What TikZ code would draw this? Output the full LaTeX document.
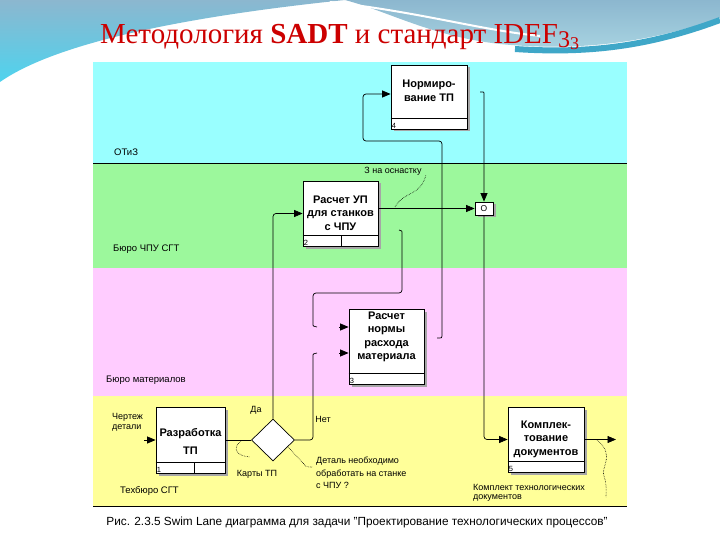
\documentclass[tikz,border=0pt]{standalone}
\usepackage{fontspec}
\setmainfont{Liberation Sans}
\newfontfamily\titlefont{Liberation Serif}
\usetikzlibrary{arrows.meta,shapes.geometric,shadows,calc}
\definecolor{lanecyan}{HTML}{99FFFF}
\definecolor{lanegreen}{HTML}{9CF89C}
\definecolor{lanepink}{HTML}{FFCCFF}
\definecolor{laneyellow}{HTML}{FFFF99}
\definecolor{titlered}{HTML}{CC0000}
\definecolor{decotop}{HTML}{8CB7CF}
\definecolor{decocyan}{HTML}{4ED3EE}
\definecolor{decoright}{HTML}{A9D5E2}
\definecolor{decoteal}{HTML}{3FA7C8}
\tikzset{
  box/.style={draw, fill=white, line width=0.8pt, inner sep=0pt,
    drop shadow={shadow xshift=2.5pt, shadow yshift=-2.5pt, fill=black!35, opacity=1}},
  boxtxt/.style={font=\fontsize{11}{13.5}\selectfont\bfseries, align=center, inner sep=0pt},
  idl/.style={font=\fontsize{7.5}{7.5}\selectfont, inner sep=1pt},
  lbl/.style={font=\fontsize{9}{10}\selectfont, align=left, inner sep=0pt},
  lane/.style={font=\fontsize{9.5}{10}\selectfont, inner sep=0pt, anchor=west},
  link/.style={line width=0.7pt, rounded corners=3pt},
  arr/.style={link, -{Triangle[length=8.5pt,width=7pt]}},
  sq/.style={densely dotted, line width=0.6pt},
}
\begin{document}
\begin{tikzpicture}[x=1pt,y=-1pt]
\useasboundingbox (0,0) rectangle (720,540);
\fill[white] (0,0) rectangle (720,540);
% decoration
\shade[top color=decotop, bottom color=decocyan] (0,0) -- (345,0) .. controls (200,15) and (60,40) .. (0,82) -- cycle;
\shade[top color=decotop, bottom color=decoright] (345,0) -- (720,0) -- (720,18) .. controls (650,42) and (580,52) .. (500,44) .. controls (430,36) and (390,12) .. (345,0) -- cycle;
\draw[decoteal, line width=6pt] (720,20) .. controls (650,46) and (590,54) .. (515,49);
\draw[white, line width=2pt] (330,2) .. controls (420,12) and (480,30) .. (540,36);
% title
\node[anchor=base west, text=titlered, inner sep=0pt, font=\titlefont\fontsize{29}{30}\selectfont] (title) at (100,44)
  {Методология \textbf{SADT} и стандарт IDEF\raisebox{-0.12em}{\fontsize{24}{24}\selectfont 3}\raisebox{-0.2em}{\fontsize{18}{18}\selectfont 3}};
% lanes
\fill[lanecyan] (93,62) rectangle (627,163);
\fill[lanegreen] (93,163) rectangle (627,268);
\fill[lanepink] (93,268) rectangle (627,396);
\fill[laneyellow] (93,396) rectangle (627,506);
\draw[line width=0.8pt] (93,163) -- (627,163);
\draw[line width=0.8pt] (93,506) -- (627,506);
% lane labels
\node[lane] (l1) at (114,152) {ОТиЗ};
\node[lane] (l2) at (113,249) {Бюро ЧПУ СГТ};
\node[lane] (l3) at (106,380) {Бюро материалов};
\node[lane] (l4) at (120,491) {Техбюро СГТ};
% boxes
\node[box, minimum width=76pt, minimum height=64pt] (b4) at (429,97) {};
\node[box, minimum width=75pt, minimum height=65pt] (b2) at (340.5,213.5) {};
\node[box, minimum width=75pt, minimum height=75pt] (b3) at (386.5,346.5) {};
\node[box, minimum width=69pt, minimum height=66pt] (b1) at (190.5,440) {};
\node[box, minimum width=76pt, minimum height=65pt] (b5) at (546,439.5) {};
\node[box, minimum width=18pt, minimum height=13pt, font=\fontsize{8.5}{8.5}\selectfont] (J) at (484,208.5) {O};
\node[draw, diamond, fill=white, line width=0.7pt, minimum width=43pt, minimum height=42pt, inner sep=0pt] (D) at (273,440) {};
% strips
\foreach \b/\n in {b4/4, b2/2, b3/3, b1/1, b5/5} {
  \draw[line width=0.6pt] ($(\b.south west)+(0,-11)$) -- ($(\b.south east)+(0,-11)$);
  \node[idl, anchor=south west] at (\b.south west) {\n};
}
\draw[line width=0.6pt] ($(b2.south west)+(39,0)$) -- ++(0,-11);
\draw[line width=0.6pt] ($(b1.south west)+(39,0)$) -- ++(0,-11);
% box texts
\node[boxtxt] (t4) at (429,91) {Нормиро-\\вание ТП};
\node[boxtxt] (t2) at (340.5,213) {Расчет УП\\для станков\\с ЧПУ};
\node[boxtxt] (t3) at (386.5,337) {Расчет\\нормы\\расхода\\материала};
\node[boxtxt, font=\fontsize{11}{18}\selectfont\bfseries] (t1) at (190.5,441) {Разработка\\ТП};
\node[boxtxt] (t5) at (546,439) {Комплек-\\тование\\документов};
% coordinates
\coordinate (in1) at (144,440);
\coordinate (out5) at (616,439.5);
\coordinate (tA) at (317,353);
\coordinate (tB) at (339,353);
\coordinate (tC) at (399,230);
\coordinate (tD) at (317,327);
\coordinate (tE) at (339,327);
\coordinate (tF) at (437,338);
\coordinate (tG) at (480,92);
% connectors
\draw[arr] (in1) -- (b1.west);
\draw[link] (b1.east) -- (D.west);
\draw[arr] (D.north) |- (b2.west);
\draw[link] (D.east) -- (313,440) -- (313,358) .. controls (313,354) .. (tA);
\draw[arr] (tB) -- (tB -| b3.west);
\draw[link] (tC) .. controls (402,231) .. (402,235) -- (402,293) -- (313,293) -- (313,322) .. controls (313,326) .. (tD);
\draw[arr] (tE) -- (tE -| b3.west);
\draw[arr] (tF) .. controls (442,338) .. (442,333) -- (442,141) -- (363,141) -- (363,94) -- ($(b4.west)+(0,-3)$);
\draw[arr] (tG) .. controls (484,92) .. (484,96) -- (J.north);
\draw[arr] (b2.east |- J.west) -- (J.west);
\draw[arr] (J.south) |- (b5.west);
\draw[arr] (b5.east) -- (out5);
% squiggles
\draw[sq] (241,441) .. controls (232,448) and (236,456) .. (250,457);
\draw[sq] (395,207) .. controls (405,190) and (420,197) .. (426,175);
\draw[sq] (597,440) .. controls (616,455) and (600,468) .. (604,476) .. controls (607,485) and (606,490) .. (606,497);
\draw[sq] (288,447) -- (303,463) .. controls (306,467) .. (312,467);
% labels
\node[lbl, anchor=west] (lin) at (112,422) {Чертеж\\детали};
\node[lbl] (lkarty) at (257,474) {Карты ТП};
\node[lbl] (lda) at (256,410) {Да};
\node[lbl] (lnet) at (323,419) {Нет};
\node[lbl] (lz) at (393,171) {З на оснастку};
\node[lbl, anchor=north west, font=\fontsize{9}{12.5}\selectfont] (ldet) at (316,457) {Деталь необходимо\\обработать на станке\\с ЧПУ ?};
\node[lbl, anchor=north west, font=\fontsize{9}{9.5}\selectfont] (lkompl) at (473,484) {Комплект технологических\\документов};
% caption
\node[font=\fontsize{11.8}{13}\selectfont, inner sep=0pt] (cap) at (357,522) {Рис. 2.3.5 Swim Lane диаграмма для задачи "Проектирование технологических процессов"};
\end{tikzpicture}
\end{document}
